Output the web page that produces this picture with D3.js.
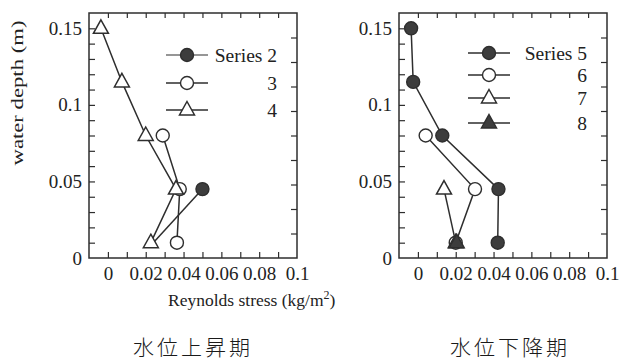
<!DOCTYPE html>
<html>
<head>
<meta charset="utf-8">
<script src="https://cdn.jsdelivr.net/npm/d3@7"></script>
<style>
  html, body { margin: 0; padding: 0; background: #fff; }
  svg { display: block; }
</style>
</head>
<body>
<svg id="chart" width="620" height="363"></svg>
<script>
// ---------------- data ----------------
const depthLevels = [0.15, 0.115, 0.08, 0.045, 0.01];

// Left panel (水位上昇期)
const s2Depth = [0.045, 0.01];
const s2Value = [0.050, 0.024];
const s3Depth = [0.08, 0.045, 0.01];
const s3Value = [0.029, 0.038, 0.0365];
const s4Depth = [0.15, 0.115, 0.08, 0.045, 0.01];
const s4Value = [-0.0037, 0.0074, 0.020, 0.036, 0.0227];

// Right panel (水位下降期)
const s5Depth = [0.15, 0.115, 0.08, 0.045, 0.01];
const s5Value = [-0.0036, -0.0025, 0.0129, 0.0426, 0.0422];
const s6Depth = [0.08, 0.045, 0.01];
const s6Value = [0.0041, 0.0302, 0.020];
const s7Depth = [0.045, 0.01];
const s7Value = [0.0138, 0.020];
const s8Depth = [0.01];
const s8Value = [0.0205];

const leftLegend = ["Series 2", "3", "4"];
const rightLegend = ["Series 5", "6", "7", "8"];
const panelCaptions = ["水位上昇期", "水位下降期"];

const xTickValues = [0, 0.02, 0.04, 0.06, 0.08, 0.1];
const xTickLabels = ["0", "0.02", "0.04", "0.06", "0.08", "0.1"];
const xMinorTicks = [0, 0.01, 0.02, 0.03, 0.04, 0.05, 0.06, 0.07, 0.08, 0.09];
const yTickValues = [0, 0.05, 0.1, 0.15];
const yTickLabels = ["0", "0.05", "0.1", "0.15"];
const yMinorTicks = [0.01,0.02,0.03,0.04,0.05,0.06,0.07,0.08,0.09,0.1,0.11,0.12,0.13,0.14,0.15];

const yTitle = "water depth (m)";
const xTitle = "Reynolds stress (kg/m";

// ---------------- drawing ----------------
const svg = d3.select("#chart").style("font-family", "Liberation Serif");
const INK = "#2e2e2e";
const FILL = "#3d3d3d";
const SERIF = "Liberation Serif";

const yScale = d3.scaleLinear().domain([0, 0.16]).range([258, 13]);

const panels = [
  {
    x0: 89, x1: 297,
    series: [
      {d: s2Depth, v: s2Value, marker: "circle", filled: true, hidden: [1]},
      {d: s3Depth, v: s3Value, marker: "circle", filled: false, hidden: []},
      {d: s4Depth, v: s4Value, marker: "triangle", filled: false, hidden: []}
    ],
    legend: leftLegend,
    legendLine: [166, 208], legendY: [55, 83, 110], labelX: 277
  },
  {
    x0: 399, x1: 607,
    series: [
      {d: s5Depth, v: s5Value, marker: "circle", filled: true, hidden: []},
      {d: s6Depth, v: s6Value, marker: "circle", filled: false, hidden: []},
      {d: s7Depth, v: s7Value, marker: "triangle", filled: false, hidden: []},
      {d: s8Depth, v: s8Value, marker: "triangle", filled: true, hidden: []}
    ],
    legend: rightLegend,
    legendLine: [468, 510], legendY: [53, 75, 98, 123], labelX: 587
  }
];

const triPath = "M0,-8.5L7.5,5L-7.5,5Z";

function drawMarker(g, type, filled, x, y) {
  if (type === "circle") {
    g.append("circle").attr("cx", x).attr("cy", y).attr("r", 6.5)
      .attr("fill", filled ? FILL : "#fff")
      .attr("stroke", INK).attr("stroke-width", 1.4);
  } else {
    g.append("path").attr("d", triPath)
      .attr("transform", `translate(${x},${y})`)
      .attr("fill", filled ? FILL : "#fff")
      .attr("stroke", INK).attr("stroke-width", 1.5)
      .attr("stroke-linejoin", "miter");
  }
}

function serifText(sel, size) {
  sel.style("font-family", SERIF)
    .style("font-size", size + "px").attr("fill", "#222");
}

panels.forEach((p, pi) => {
  const x = d3.scaleLinear().domain([-0.01, 0.1]).range([p.x0, p.x1]);
  const g = svg.append("g");
  const [yb, yt] = yScale.range();

  // inner tick marks - bottom
  g.append("g").attr("transform", `translate(0,${yb})`)
    .call(d3.axisBottom(x).tickValues(xMinorTicks).tickSize(-6).tickFormat(""))
    .call(a => a.select(".domain").remove())
    .call(a => a.selectAll("line").attr("stroke", INK).attr("stroke-width", 1.2));
  // top
  g.append("g").attr("transform", `translate(0,${yt})`)
    .call(d3.axisTop(x).tickValues(xMinorTicks).tickSize(-5).tickFormat(""))
    .call(a => a.select(".domain").remove())
    .call(a => a.selectAll("line").attr("stroke", INK).attr("stroke-width", 1.2));
  // left
  g.append("g").attr("transform", `translate(${p.x0},0)`)
    .call(d3.axisLeft(yScale).tickValues(yMinorTicks).tickSize(-6).tickFormat(""))
    .call(a => a.select(".domain").remove())
    .call(a => a.selectAll("line").attr("stroke", INK).attr("stroke-width", 1.2));
  // right (secondary axis, ten divisions)
  const yRight = d3.scaleLinear().domain([0, 10]).range([yb, yt]);
  g.append("g").attr("transform", `translate(${p.x1},0)`)
    .call(d3.axisRight(yRight).tickValues(d3.range(1, 10)).tickSize(-6).tickFormat(""))
    .call(a => a.select(".domain").remove())
    .call(a => a.selectAll("line").attr("stroke", INK).attr("stroke-width", 1.2));

  // tick labels
  g.append("g").attr("transform", `translate(0,${yb})`)
    .call(d3.axisBottom(x).tickValues(xTickValues).tickSize(0).tickPadding(22)
      .tickFormat((d, i) => xTickLabels[i]))
    .call(a => a.select(".domain").remove())
    .call(a => a.attr("font-family", "Liberation Serif").attr("font-size", 19))
    .call(a => a.selectAll("text").call(serifText, 19).attr("dy", 0));
  g.append("g").attr("transform", `translate(${p.x0},0)`)
    .call(d3.axisLeft(yScale).tickValues(yTickValues).tickSize(0).tickPadding(7)
      .tickFormat((d, i) => yTickLabels[i]))
    .call(a => a.select(".domain").remove())
    .call(a => a.attr("font-family", "Liberation Serif").attr("font-size", 19))
    .call(a => a.selectAll("text").call(serifText, 19).attr("dy", "0.32em"));

  // frame
  g.append("rect").attr("x", p.x0).attr("y", yt)
    .attr("width", p.x1 - p.x0).attr("height", yb - yt)
    .attr("fill", "none").attr("stroke", INK).attr("stroke-width", 1.5);

  // series lines
  const line = d3.line().x(d => x(d[1])).y(d => yScale(d[0]));
  p.series.forEach(s => {
    const pts = s.d.map((d, i) => [d, s.v[i]]);
    g.append("path").datum(pts).attr("d", line)
      .attr("fill", "none").attr("stroke", INK).attr("stroke-width", 1.5);
  });
  // markers
  p.series.forEach(s => {
    s.d.forEach((d, i) => {
      if (s.hidden.includes(i)) return;
      drawMarker(g, s.marker, s.filled, x(s.v[i]), yScale(d));
    });
  });

  // legend
  p.legend.forEach((lab, i) => {
    const s = p.series[i];
    const ly = p.legendY[i];
    g.append("line").attr("x1", p.legendLine[0]).attr("x2", p.legendLine[1])
      .attr("y1", ly).attr("y2", ly).attr("stroke", INK)
      .attr("stroke-width", i === 0 && pi === 0 ? 1.1 : 1.5);
    drawMarker(g, s.marker, s.filled, (p.legendLine[0] + p.legendLine[1]) / 2, ly);
    g.append("text").attr("x", p.labelX).attr("y", ly + 6.5)
      .attr("text-anchor", "end").call(serifText, 19.5).text(lab);
  });

  // caption
  svg.append("text").attr("x", (p.x0 + p.x1) / 2 + (pi === 0 ? 0 : 7)).attr("y", 355)
    .attr("text-anchor", "middle")
    .style("font-family", "Noto Sans CJK JP")
    .style("font-weight", 300)
    .style("font-size", "21px").attr("letter-spacing", 3)
    .attr("fill", "#1a1a1a").text(panelCaptions[pi]);
});

// axis titles
svg.append("text")
  .attr("transform", "translate(23,93) rotate(-90)")
  .attr("text-anchor", "middle")
  .call(serifText, 16)
  .attr("textLength", 145).attr("lengthAdjust", "spacingAndGlyphs")
  .text(yTitle);

const xt = svg.append("text").attr("x", 168).attr("y", 306).call(serifText, 17.5);
xt.append("tspan").text(xTitle);
xt.append("tspan").attr("dy", -7).style("font-size", "12px").text("2");
xt.append("tspan").attr("dy", 7).text(")");
</script>
</body>
</html>
